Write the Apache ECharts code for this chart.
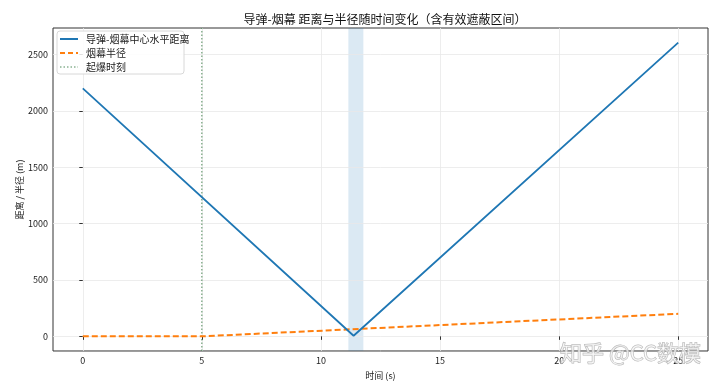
<!DOCTYPE html>
<html><head><meta charset="utf-8">
<script src="https://cdn.jsdelivr.net/npm/echarts@6/dist/echarts.min.js"></script>
<style>html,body{margin:0;padding:0;background:#fff}#c{width:720px;height:385px}</style>
</head><body><div id="c"></div>
<script>
const distTime = [0, 11.37, 25];
const distValues = [2200, 5, 2605];
const radiusTime = [0, 5, 25];
const radiusValues = [0, 0, 200];
const detonationTime = 5.0;
const shadeStart = 11.15, shadeEnd = 11.78;
const xTicks = [0, 5, 10, 15, 20, 25];
const yTicks = [0, 500, 1000, 1500, 2000, 2500];
const seriesNames = ['导弹-烟幕中心水平距离', '烟幕半径', '起爆时刻'];
const xMin = -1.25, xMax = 26.25, yMin = -130, yMax = 2735;

const font = '"Noto Sans CJK SC", "DejaVu Sans", sans-serif';
const C_BLUE = '#1f77b4', C_ORANGE = '#ff7f0e', C_GREEN = '#4f8a5a';
const chart = echarts.init(document.getElementById('c'));
const gridLines = xTicks.map(v => ({xAxis: v})).concat(yTicks.map(v => ({yAxis: v})));

// manual legend (matplotlib style)
const lgX = 57, lgY = 31, rowH = 14;
const legendStyles = [
  {color: C_BLUE, dash: null, width: 2},
  {color: C_ORANGE, dash: [5, 3], width: 2},
  {color: C_GREEN, dash: [1.5, 2], width: 1}
];
const legendGraphics = [{type: 'rect', shape: {x: lgX, y: lgY, width: 127, height: 43, r: 3},
  style: {fill: 'rgba(255,255,255,0.85)', stroke: '#d8d8d8', lineWidth: 1}, z: 100}];
seriesNames.forEach((n, i) => {
  const cy = lgY + 8 + i * rowH;
  const s = legendStyles[i];
  legendGraphics.push({type: 'line', shape: {x1: lgX + 3, y1: cy, x2: lgX + 21, y2: cy},
    style: {stroke: s.color, lineWidth: s.width, lineDash: s.dash}, z: 101});
  legendGraphics.push({type: 'text', x: lgX + 29, y: cy, style: {text: n, fill: '#222', font: '10px ' + font, textVerticalAlign: 'middle'}, z: 101});
});

chart.setOption({
  animation: false,
  title: {text: '导弹-烟幕 距离与半径随时间变化（含有效遮蔽区间）', left: 380, textAlign: 'center', top: 8,
    textStyle: {fontFamily: font, fontSize: 12, fontWeight: 'normal', color: '#111'}},
  grid: {left: 53, right: 12, top: 28, bottom: 30, show: true, borderColor: '#333', borderWidth: 1},
  xAxis: {type: 'value', min: xMin, max: xMax,
    name: '时间 (s)', nameLocation: 'middle', nameGap: 20, nameTextStyle: {fontFamily: font, fontSize: 9, color: '#222'},
    axisLine: {show: false}, splitLine: {show: false},
    axisTick: {show: true, customValues: xTicks, length: 3.5, lineStyle: {color: '#333'}},
    axisLabel: {customValues: xTicks, fontFamily: font, fontSize: 9, color: '#222', margin: 5}},
  yAxis: {type: 'value', min: yMin, max: yMax,
    name: '距离 / 半径 (m)', nameLocation: 'middle', nameGap: 29, nameMoveOverlap: false,
    nameTextStyle: {fontFamily: font, fontSize: 9, color: '#222'},
    axisLine: {show: false}, splitLine: {show: false},
    axisTick: {show: true, customValues: yTicks, length: 3.5, lineStyle: {color: '#333'}},
    axisLabel: {customValues: yTicks, formatter: v => String(v), fontFamily: font, fontSize: 9, color: '#222', margin: 5}},
  series: [
    {name: 'grid', type: 'line', data: [], silent: true, z: 0,
     markLine: {silent: true, z: 0, symbol: 'none', label: {show: false}, lineStyle: {color: '#e8e8e8', width: 0.8, type: 'solid'}, data: gridLines},
     markArea: {silent: true, z: 0, itemStyle: {color: 'rgba(31,119,180,0.16)'}, data: [[{xAxis: shadeStart}, {xAxis: shadeEnd}]]}},
    {name: seriesNames[0], type: 'line', symbol: 'none', data: distTime.map((t, i) => [t, distValues[i]]),
     lineStyle: {color: C_BLUE, width: 1.8}, itemStyle: {color: C_BLUE}, z: 10},
    {name: seriesNames[1], type: 'line', symbol: 'none', data: radiusTime.map((t, i) => [t, radiusValues[i]]),
     lineStyle: {color: C_ORANGE, width: 2, type: [6, 3]}, itemStyle: {color: C_ORANGE}, z: 9},
    {name: seriesNames[2], type: 'line', symbol: 'none', data: [[detonationTime, yMin], [detonationTime, yMax]],
     lineStyle: {color: C_GREEN, width: 1, type: [1.5, 2]}, itemStyle: {color: C_GREEN}, z: 8}
  ],
  graphic: legendGraphics.concat([{type: 'text', x: 560, y: 353, z: 110,
    style: {text: '知乎 @CC数模', fill: 'rgba(255,255,255,0.6)', stroke: '#b4b4b4', lineWidth: 1, font: '22px ' + font, textVerticalAlign: 'middle'}}])
});
</script></body></html>
